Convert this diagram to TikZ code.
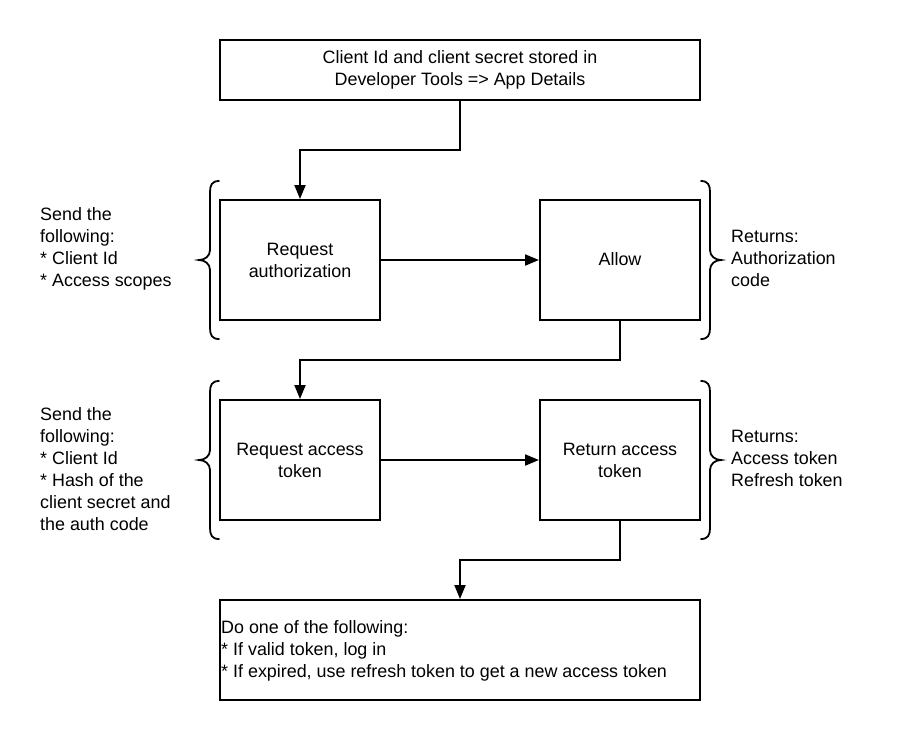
\documentclass[tikz,border=0pt]{standalone}
\usepackage{fontspec}
\setmainfont{Liberation Sans}
\usetikzlibrary{arrows.meta}
\begin{document}
\begin{tikzpicture}[x=1pt,y=-1pt,
  box/.style={draw,line width=2pt,minimum width=160pt,minimum height=120pt,align=center,inner sep=0pt},
  wide/.style={draw,line width=2pt,minimum width=480pt,inner sep=0pt},
  conn/.style={line width=2pt,-{Triangle[length=14pt,width=11pt]}},
  lbl/.style={align=left,inner sep=0pt},
  brace/.style={line width=1.8pt,line cap=round},
  every node/.style={font=\fontsize{17.9pt}{22pt}\selectfont}]
\useasboundingbox (0,0) rectangle (900,740);
\node[wide,minimum height=60pt,align=center] (top) at (460,70) {Client Id and client secret stored in\\Developer Tools => App Details};
\node[box] (req) at (300,260) {\raisebox{2pt}{\parbox{150pt}{\centering Request\\authorization}}};
\node[box] (allow) at (620,260) {\raisebox{2pt}{Allow}};
\node[box] (reqt) at (300,460) {\raisebox{2pt}{\parbox{150pt}{\centering Request access\\token}}};
\node[box] (ret) at (620,460) {\raisebox{2pt}{\parbox{150pt}{\centering Return access\\token}}};
\node[wide,minimum height=100pt] (final) at (460,650) {};
\node[lbl,anchor=west] (ftxt) at (221,651) {Do one of the following:\\* If valid token, log in\\* If expired, use refresh token to get a new access token};
\coordinate (c1) at (460,150);
\draw[conn] (top.south -| c1) |- (300,150) -- (req.north);
\draw[conn] (req.east) -- (allow.west);
\draw[conn] (allow.south) |- (300,360) -- (reqt.north);
\draw[conn] (reqt.east) -- (ret.west);
\draw[conn] (ret.south) |- (460,560) -- (final.north);
% braces
\draw[brace] (219,181) .. controls (212,181) and (210,185) .. (210,192) -- (210,250) .. controls (210,256) and (205,260) .. (199,260) .. controls (205,260) and (210,264) .. (210,270) -- (210,328) .. controls (210,335) and (212,339) .. (219,339);
\draw[brace] (701,181) .. controls (708,181) and (710,185) .. (710,192) -- (710,250) .. controls (710,256) and (715,260) .. (721,260) .. controls (715,260) and (710,264) .. (710,270) -- (710,328) .. controls (710,335) and (708,339) .. (701,339);
\draw[brace] (219,381) .. controls (212,381) and (210,385) .. (210,392) -- (210,450) .. controls (210,456) and (205,460) .. (199,460) .. controls (205,460) and (210,464) .. (210,470) -- (210,528) .. controls (210,535) and (212,539) .. (219,539);
\draw[brace] (701,381) .. controls (708,381) and (710,385) .. (710,392) -- (710,450) .. controls (710,456) and (715,460) .. (721,460) .. controls (715,460) and (710,464) .. (710,470) -- (710,528) .. controls (710,535) and (708,539) .. (701,539);
\node[lbl,anchor=west] (l1) at (40,249) {Send the\\following:\\* Client Id\\* Access scopes};
\node[lbl,anchor=west] (l2) at (40,469) {Send the\\following:\\* Client Id\\* Hash of the\\client secret and\\the auth code};
\node[lbl,anchor=west] (r1) at (731,258) {Returns:\\Authorization\\code};
\node[lbl,anchor=west] (r2) at (731,458) {Returns:\\Access token\\Refresh token};
\end{tikzpicture}
\end{document}
